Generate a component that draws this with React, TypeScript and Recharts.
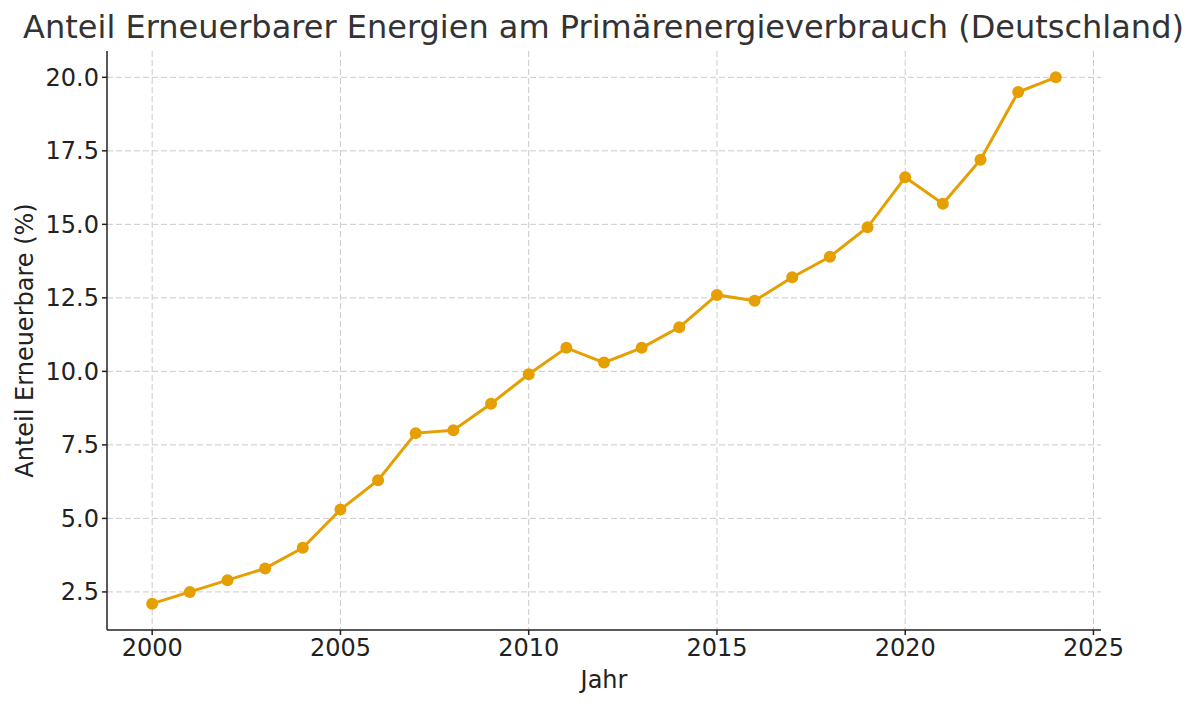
import { LineChart, Line, XAxis, YAxis, CartesianGrid } from 'recharts'

// Anteil erneuerbarer Energien am Primärenergieverbrauch, Deutschland (%)
const years = [
    2000, 2001, 2002, 2003, 2004, 2005, 2006, 2007, 2008, 2009, 2010, 2011,
    2012, 2013, 2014, 2015, 2016, 2017, 2018, 2019, 2020, 2021, 2022, 2023, 2024,
]
const shares = [
    2.1, 2.5, 2.9, 3.3, 4.0, 5.3, 6.3, 7.9, 8.0, 8.9, 9.9, 10.8,
    10.3, 10.8, 11.5, 12.6, 12.4, 13.2, 13.9, 14.9, 16.6, 15.7, 17.2, 19.5, 20.0,
]
const xTicks = [2000, 2005, 2010, 2015, 2020, 2025]
const yTicks = [2.5, 5.0, 7.5, 10.0, 12.5, 15.0, 17.5, 20.0]

const data = years.map((jahr, i) => ({ jahr, anteil: shares[i] }))

const FONT = '"DejaVu Sans", sans-serif'
const ORANGE = '#E69F00'

export default function App() {
    return (
        <div style={{ position: 'absolute', left: 0, top: 0, width: 1200, height: 707, background: '#fff', fontFamily: FONT }}>
            <div style={{
                position: 'absolute',
                top: 8,
                left: 0,
                width: 1207,
                textAlign: 'center',
                fontSize: 32,
                color: '#333333',
                whiteSpace: 'nowrap',
            }}>
                Anteil Erneuerbarer Energien am Primärenergieverbrauch (Deutschland)
            </div>
            <LineChart
                width={1200}
                height={707}
                data={data}
                margin={{ top: 51, right: 99, left: 0, bottom: 0 }}
            >
                <CartesianGrid stroke="#cbcbcb" strokeDasharray="6 3" strokeWidth={1} syncWithTicks />
                <XAxis
                    dataKey="jahr"
                    type="number"
                    domain={[1998.8, 2025.2]}
                    ticks={xTicks}
                    allowDataOverflow
                    height={77}
                    tickSize={5}
                    tickMargin={4}
                    stroke="#222"
                    strokeWidth={1.5}
                    tick={{ fill: '#222', fontSize: 24, fontFamily: FONT }}
                    label={({ viewBox }: any) => (
                        <text
                            x={viewBox.x + viewBox.width / 2}
                            y={688}
                            textAnchor="middle"
                            fontSize={24}
                            fontFamily={FONT}
                            fill="#222"
                        >
                            Jahr
                        </text>
                    )}
                />
                <YAxis
                    type="number"
                    domain={[1.205, 20.895]}
                    ticks={yTicks}
                    allowDataOverflow
                    width={107}
                    tickSize={5}
                    tickMargin={3}
                    stroke="#222"
                    strokeWidth={1.5}
                    tickFormatter={(v: number) => v.toFixed(1)}
                    tick={{ fill: '#222', fontSize: 24, fontFamily: FONT }}
                    label={({ viewBox }: any) => (
                        <text
                            x={33}
                            y={viewBox.y + viewBox.height / 2}
                            transform={`rotate(-90 33 ${viewBox.y + viewBox.height / 2})`}
                            textAnchor="middle"
                            fontSize={24}
                            fontFamily={FONT}
                            fill="#222"
                        >
                            Anteil Erneuerbare (%)
                        </text>
                    )}
                />
                <Line
                    type="linear"
                    dataKey="anteil"
                    stroke={ORANGE}
                    strokeWidth={3}
                    dot={{ r: 6, fill: ORANGE, stroke: ORANGE, strokeWidth: 0 }}
                    isAnimationActive={false}
                />
            </LineChart>
        </div>
    )
}
